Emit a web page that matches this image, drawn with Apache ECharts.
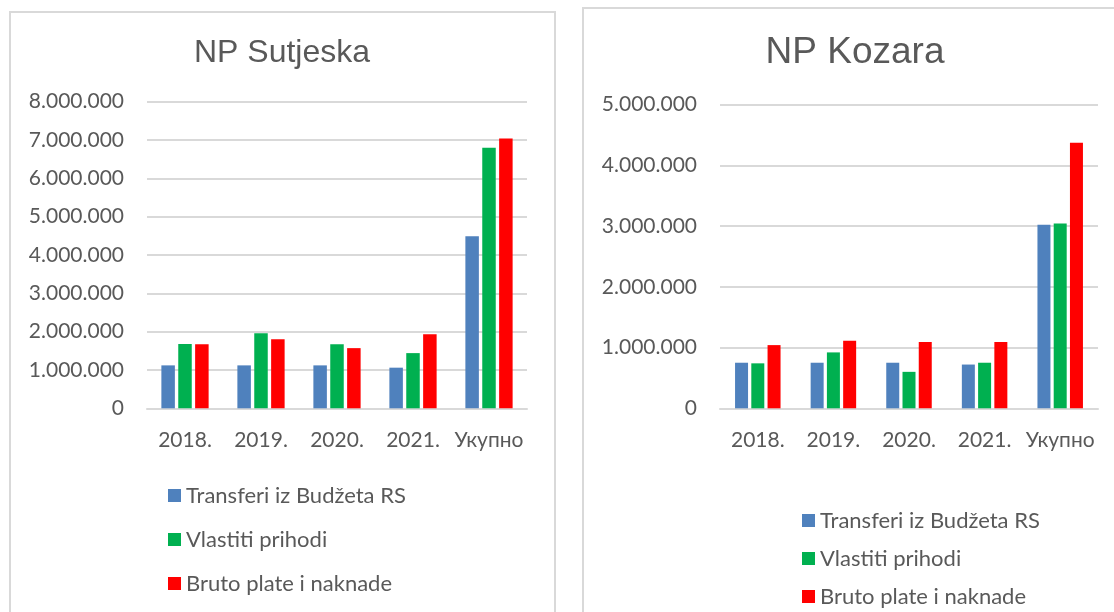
<!DOCTYPE html>
<html>
<head>
<meta charset="utf-8">
<script src="https://cdn.jsdelivr.net/npm/echarts@6/dist/echarts.min.js"></script>
<style>
  html, body { margin: 0; padding: 0; background: #fff; }
  #wrap { position: relative; width: 1114px; height: 612px; overflow: hidden; }
  .box { position: absolute; border: 2px solid #d9d9d9; box-sizing: border-box; }
  #main { position: absolute; left: 0; top: 0; width: 1114px; height: 680px; }
</style>
</head>
<body>
<div id="wrap">
  <div class="box" style="left:9px; top:11px; width:547px; height:640px;"></div>
  <div class="box" style="left:582px; top:7px; width:600px; height:640px;"></div>
  <div id="main"></div>
</div>
<script>
const categories = ['2018.', '2019.', '2020.', '2021.', 'Укупно'];
const seriesNames = ['Transferi iz Budžeta RS', 'Vlastiti prihodi', 'Bruto plate i naknade'];

// NP Sutjeska
const sutjeskaTransferi = [1120000, 1120000, 1120000, 1060000, 4490000];
const sutjeskaVlastiti = [1680000, 1960000, 1670000, 1440000, 6800000];
const sutjeskaBruto = [1670000, 1800000, 1570000, 1930000, 7040000];

// NP Kozara
const kozaraTransferi = [750000, 750000, 750000, 720000, 3020000];
const kozaraVlastiti = [740000, 920000, 600000, 750000, 3040000];
const kozaraBruto = [1040000, 1110000, 1090000, 1090000, 4370000];

const colors = ['#4f81bd', '#00b050', '#ff0000'];
const textColor = '#595959';
const gridColor = '#d9d9d9';

const fmt = v => String(v).replace(/\B(?=(\d{3})+(?!\d))/g, '.');

const chart = echarts.init(document.getElementById('main'));

function xAxis(gridIndex) {
  return {
    type: 'category',
    gridIndex: gridIndex,
    data: categories,
    axisLine: { lineStyle: { color: gridColor, width: 2 } },
    axisTick: { show: false },
    axisLabel: { interval: 0, color: textColor, fontFamily: 'Lato', fontSize: 21, margin: 21 }
  };
}

function yAxis(gridIndex, max) {
  return {
    type: 'value',
    gridIndex: gridIndex,
    min: 0,
    max: max,
    interval: 1000000,
    axisLine: { show: false },
    axisTick: { show: false },
    splitLine: { lineStyle: { color: gridColor, width: 2 } },
    axisLabel: { color: textColor, fontFamily: 'Lato', fontSize: 21, margin: 23, formatter: fmt }
  };
}

function bar(name, data, idx, axisIdx, width) {
  return {
    name: name,
    type: 'bar',
    xAxisIndex: axisIdx,
    yAxisIndex: axisIdx,
    data: data,
    barWidth: width,
    barGap: '25%',
    itemStyle: { color: colors[idx] }
  };
}

const option = {
  animation: false,
  title: [
    {
      text: 'NP Sutjeska',
      left: 282, top: 37, textAlign: 'center', padding: 0,
      textStyle: { color: textColor, fontFamily: 'Liberation Sans', fontWeight: 'normal', fontSize: 32 }
    },
    {
      text: 'NP Kozara',
      left: 855, top: 34, textAlign: 'center', padding: 0,
      textStyle: { color: textColor, fontFamily: 'Liberation Sans', fontWeight: 'normal', fontSize: 37 }
    }
  ],
  legend: [
    {
      data: seriesNames, orient: 'vertical', left: 168, top: 484.5, padding: 0,
      itemWidth: 13, itemHeight: 13, itemGap: 22, icon: 'rect',
      textStyle: { color: textColor, fontFamily: 'Lato', fontSize: 22 },
      selectedMode: false
    },
    {
      data: seriesNames, orient: 'vertical', left: 802, top: 509.5, padding: 0,
      itemWidth: 13, itemHeight: 13, itemGap: 16, icon: 'rect',
      textStyle: { color: textColor, fontFamily: 'Lato', fontSize: 22 },
      selectedMode: false
    }
  ],
  grid: [
    { left: 147, top: 101.7, width: 380, height: 306.6 },
    { left: 720, top: 104.5, width: 378, height: 303.8 }
  ],
  xAxis: [xAxis(0), xAxis(1)],
  yAxis: [yAxis(0, 8000000), yAxis(1, 5000000)],
  series: [
    bar(seriesNames[0], sutjeskaTransferi, 0, 0, 13.5),
    bar(seriesNames[1], sutjeskaVlastiti, 1, 0, 13.5),
    bar(seriesNames[2], sutjeskaBruto, 2, 0, 13.5),
    bar(seriesNames[0], kozaraTransferi, 0, 1, 13),
    bar(seriesNames[1], kozaraVlastiti, 1, 1, 13),
    bar(seriesNames[2], kozaraBruto, 2, 1, 13)
  ]
};

chart.setOption(option);
</script>
</body>
</html>
